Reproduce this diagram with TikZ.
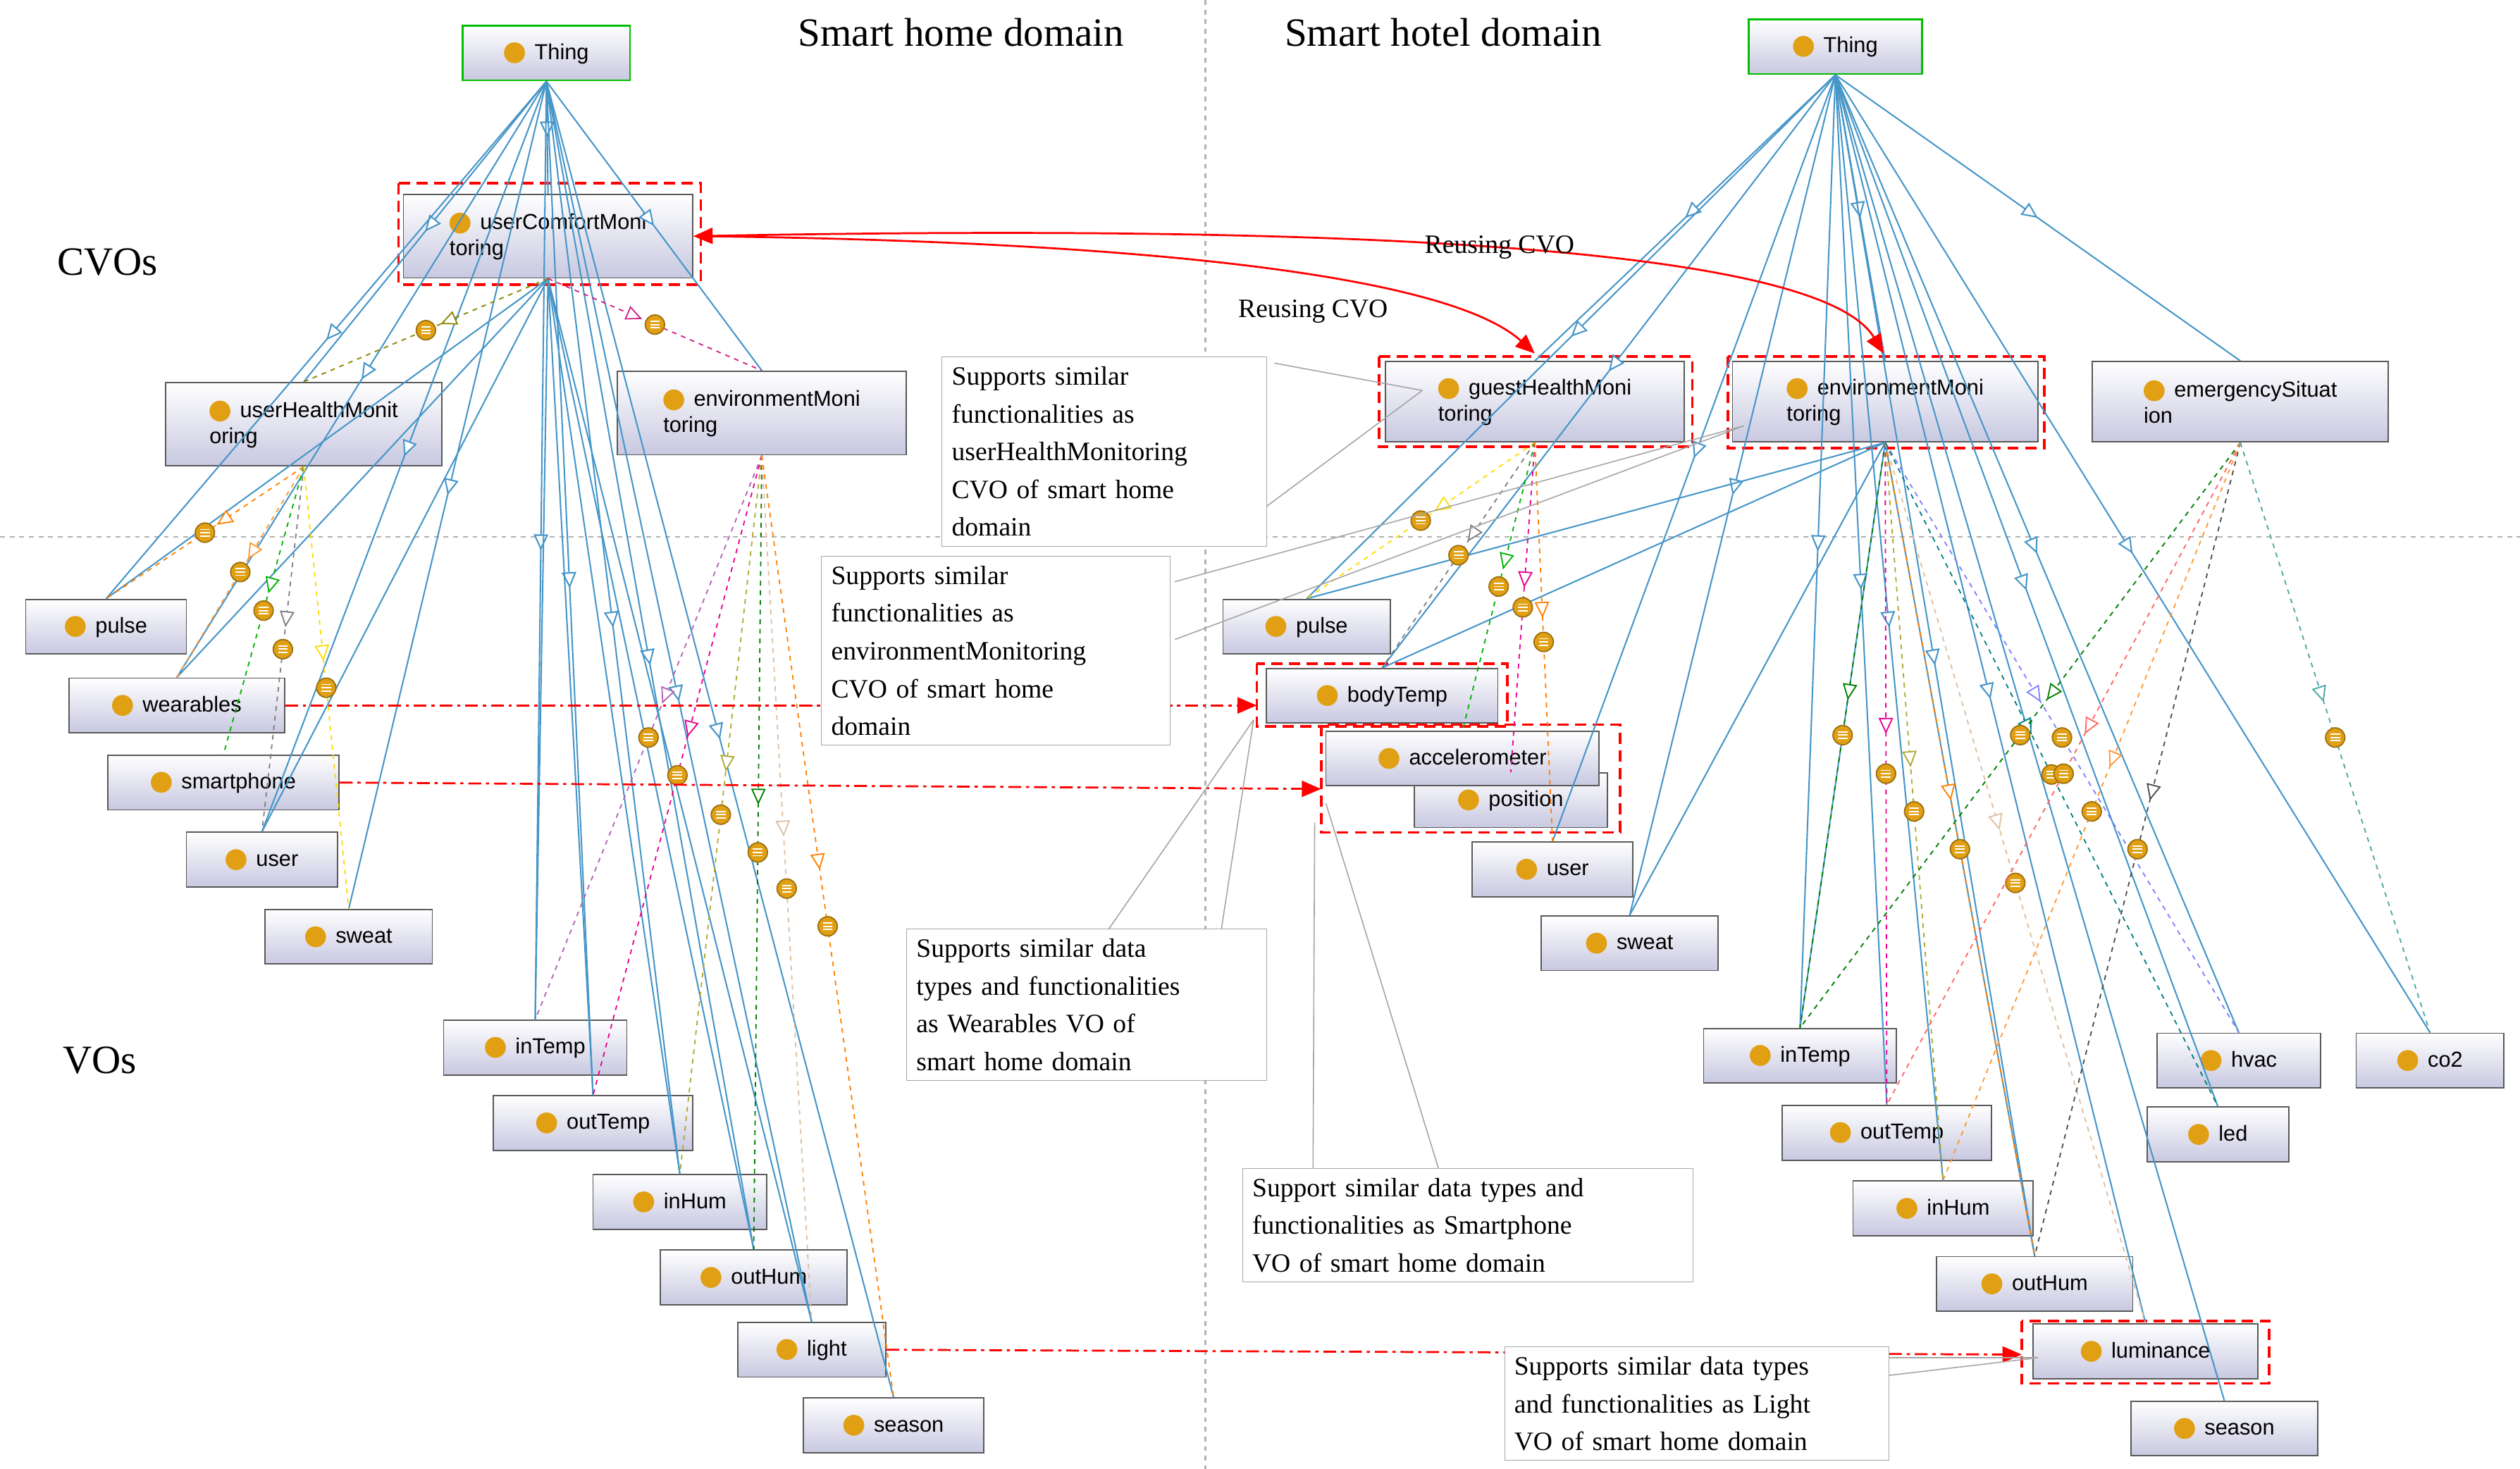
\documentclass[tikz,border=0pt]{standalone}
\usepackage{fontspec}
\setmainfont{Liberation Serif}
\newfontfamily\nodefont{Liberation Sans}
\usetikzlibrary{arrows.meta,decorations.markings}
\definecolor{bl}{RGB}{70,150,200}
\definecolor{icon}{RGB}{225,160,20}
\newcommand\oic{\tikz[baseline=-4pt]\fill[icon] (0,0) circle (6.5pt);\hspace{6pt}}
\tikzset{
 vo/.style={draw=gray!70!black, line width=0.8pt, top color=white, bottom color={rgb,255:red,200;green,200;blue,225}, minimum height=34pt, font=\nodefont\fontsize{13.5}{16}\selectfont, inner sep=3pt, align=left},
 thing/.style={vo, draw=green!75!black, line width=1.2pt},
 redbox/.style={draw=red, dash pattern=on 7pt off 4pt, line width=1.6pt},
 bl/.style={draw=bl, line width=0.9pt, postaction={decorate}, decoration={markings, mark=at position 0.5 with {\arrow{Triangle[open,length=10pt,width=9pt,fill=white]}}}},
 bp/.style={draw=bl, line width=0.9pt},
 mk/.style={circle, fill=icon, draw=icon!70!black, solid, inner sep=0pt, minimum size=12pt, path picture={\draw[white,line width=0.8pt] ([xshift=-3pt,yshift=2pt]path picture bounding box.center) -- ++(6pt,0) ([xshift=-3pt]path picture bounding box.center) -- ++(6pt,0) ([xshift=-3pt,yshift=-2pt]path picture bounding box.center) -- ++(6pt,0);}},
 dep/.style={draw=#1, dashed, line width=0.8pt, postaction={decorate}, decoration={markings, mark=at position 0.44 with {\arrow[solid,#1]{Triangle[open,length=10pt,width=9pt,fill=white]}}, mark=at position 0.5 with {\node[mk]{};}}},
 call/.style={draw=gray!70, fill=white, font=\fontsize{16.5}{23.5}\selectfont, align=left, anchor=north west, inner sep=6pt},
 ptr/.style={draw=gray!70, line width=0.7pt},
 rd/.style={draw=red, line width=1.2pt, dash pattern=on 8pt off 3pt on 2pt off 3pt, -{Triangle[length=12pt,width=10pt]}},
 title/.style={font=\fontsize{25}{30}\selectfont}
}
\begin{document}
\begin{tikzpicture}[x=1pt,y=-1pt]
\useasboundingbox[fill=white] (0,0) rectangle (1568,914);
\draw[gray!60, dashed, line width=1pt] (750,0) -- (750,914);
\draw[gray!60, dashed, line width=1pt] (0,334) -- (1568,334);
\node[title] (t1) at (598,20) {Smart home domain};
\node[title] (t2) at (898,20) {Smart hotel domain};
\node[title] (cv) at (67,163) {CVOs};
\node[title] (vv) at (62,660) {VOs};
% ---- left nodes
\node[thing, minimum width=104pt] (tl) at (340,33) {\oic Thing};
\node[vo, minimum width=180pt, minimum height=52pt] (ucm) at (341,147) {\oic userComfortMoni\\toring};
\node[vo, minimum width=172pt, minimum height=52pt] (uhm) at (189,264) {\oic userHealthMonit\\oring};
\node[vo, minimum width=180pt, minimum height=52pt] (eml) at (474,257) {\oic environmentMoni\\toring};
\node[vo, minimum width=100pt] (pl) at (66,390) {\oic pulse};
\node[vo, minimum width=134pt] (wl) at (110,439) {\oic wearables};
\node[vo, minimum width=144pt] (sl) at (139,487) {\oic smartphone};
\node[vo, minimum width=94pt] (ul) at (163,535) {\oic user};
\node[vo, minimum width=104pt] (swl) at (217,583) {\oic sweat};
\node[vo, minimum width=114pt] (itl) at (333,652) {\oic inTemp};
\node[vo, minimum width=124pt] (otl) at (369,699) {\oic outTemp};
\node[vo, minimum width=108pt] (ihl) at (423,748) {\oic inHum};
\node[vo, minimum width=116pt] (ohl) at (469,795) {\oic outHum};
\node[vo, minimum width=92pt] (ll) at (505,840) {\oic light};
\node[vo, minimum width=112pt] (sel) at (556,887) {\oic season};
\draw[redbox] (248,114) rectangle (436,177);
% ---- right nodes
\node[thing, minimum width=108pt] (tr) at (1142,29) {\oic Thing};
\node[vo, minimum width=186pt, minimum height=50pt] (ghm) at (955,250) {\oic guestHealthMoni\\toring};
\node[vo, minimum width=190pt, minimum height=50pt] (emr) at (1173,250) {\oic environmentMoni\\toring};
\node[vo, minimum width=184pt, minimum height=50pt] (ems) at (1394,250) {\oic emergencySituat\\ion};
\node[vo, minimum width=104pt] (pr) at (813,390) {\oic pulse};
\node[vo, minimum width=144pt] (bt) at (860,433) {\oic bodyTemp};
\node[vo, minimum width=120pt] (po) at (940,498) {\oic position};
\node[vo, minimum width=170pt] (ac) at (910,472) {\oic accelerometer};
\node[vo, minimum width=100pt] (ur) at (966,541) {\oic user};
\node[vo, minimum width=110pt] (swr) at (1014,587) {\oic sweat};
\node[vo, minimum width=120pt] (itr) at (1120,657) {\oic inTemp};
\node[vo, minimum width=130pt] (otr) at (1174,705) {\oic outTemp};
\node[vo, minimum width=112pt] (ihr) at (1209,752) {\oic inHum};
\node[vo, minimum width=122pt] (ohr) at (1266,799) {\oic outHum};
\node[vo, minimum width=140pt] (lum) at (1335,841) {\oic luminance};
\node[vo, minimum width=116pt] (ser) at (1384,889) {\oic season};
\node[vo, minimum width=102pt] (hv) at (1393,660) {\oic hvac};
\node[vo, minimum width=88pt] (led) at (1380,706) {\oic led};
\node[vo, minimum width=92pt] (co) at (1512,660) {\oic co2};
\draw[redbox] (858,222) rectangle (1053,278);
\draw[redbox] (1075,222) rectangle (1272,279);
\draw[redbox] (782,413) rectangle (938,452);
\draw[redbox] (822,451) rectangle (1008,518);
\draw[redbox] (1258,822) rectangle (1412,861);
% ---- blue subclass lines (left)
\foreach \n in {ucm,uhm,eml,pl,wl,ul,swl,itl,otl,ihl,ohl,ll,sel}
  \draw[bl] (tl.south) -- (\n.north);
\foreach \n in {pl,wl,ul,itl,otl,ihl,ohl,ll}
  \draw[bp] (ucm.south) -- (\n.north);
% ---- blue lines (right)
\foreach \n in {ghm,emr,ems,pr,bt,ur,swr,itr,otr,ihr,ohr,lum,ser,hv,led,co}
  \draw[bl] (tr.south) -- (\n.north);
\foreach \n in {pr,bt,swr,itr,ohr}
  \draw[bp] (emr.south) -- (\n.north);
% ---- dashed dependencies left
\draw[dep=olive] (ucm.south) -- (uhm.north);
\draw[dep=magenta!70!violet] (ucm.south) -- (eml.north);
\draw[dep=orange] (uhm.south) -- (pl.north);
\draw[dep=orange!80] (uhm.south) -- (wl.north);
\draw[dep=green!70!black] (uhm.south) -- (sl.north);
\draw[dep=gray] (uhm.south) -- (ul.north);
\draw[dep=yellow!80!orange] (uhm.south) -- (swl.north);
\draw[dep=violet!60] (eml.south) -- (itl.north);
\draw[dep=magenta] (eml.south) -- (otl.north);
\draw[dep=olive!70] (eml.south) -- (ihl.north);
\draw[dep=green!50!black] (eml.south) -- (ohl.north);
\draw[dep=brown!50] (eml.south) -- (ll.north);
\draw[dep=orange] (eml.south) -- (sel.north);
% ---- dashed dependencies right
\draw[dep=yellow!80!orange] (ghm.south) -- (pr.north);
\draw[dep=gray] (ghm.south) -- (bt.north);
\draw[dep=green!70!black] (ghm.south) -- (ac.north);
\draw[dep=magenta] (ghm.south) -- (po.north);
\draw[dep=orange] (ghm.south) -- (ur.north);
\draw[dep=green!50!black] (emr.south) -- (itr.north);
\draw[dep=magenta] (emr.south) -- (otr.north);
\draw[dep=olive!70] (emr.south) -- (ihr.north);
\draw[dep=orange] (emr.south) -- (ohr.north);
\draw[dep=brown!50] (emr.south) -- (lum.north);
\draw[dep=blue!50] (emr.south) -- (hv.north);
\draw[dep=teal] (emr.south) -- (led.north);
\draw[dep=green!50!black] (ems.south) -- (itr.north);
\draw[dep=red!60] (ems.south) -- (otr.north);
\draw[dep=gray!60!black] (ems.south) -- (ohr.north);
\draw[dep=orange!80] (ems.south) -- (ihr.north);
\draw[dep=teal!70] (ems.south) -- (co.north);
% ---- reuse arrows
\draw[red, line width=1.2pt, {Triangle[length=12pt,width=10pt]}-{Triangle[length=12pt,width=10pt]}] (ucm.east) .. controls (800,140) and (1130,150) .. (1172,220);
\draw[red, line width=1.2pt, -{Triangle[length=12pt,width=10pt]}] (436,147) .. controls (700,150) and (900,170) .. (955,220);
\node[font=\fontsize{16.5}{20}\selectfont] (r1) at (933,154) {Reusing CVO};
\node[font=\fontsize{16.5}{20}\selectfont] (r2) at (817,194) {Reusing CVO};
% ---- red dash-dot arrows
\draw[rd] (wl.east) -- (782,439);
\draw[rd] (sl.east) -- (822,491);
\draw[rd] (ll.east) -- (1258,843);
% ---- callouts
\coordinate (p1) at (885,243);
\coordinate (p2) at (1085,265);
\coordinate (p3) at (780,448);
\coordinate (p4a) at (818,512);
\coordinate (p4b) at (825,500);
\coordinate (p5) at (1268,845);
\draw[ptr] (793,226) -- (p1);
\draw[ptr] (760,336) -- (p1);
\node[call, text width=190pt] (c1) at (586,222) {Supports similar\\functionalities as\\userHealthMonitoring\\CVO of smart home\\domain};
\draw[ptr] (731,362) -- (p2);
\draw[ptr] (731,398) -- (p2);
\node[call, text width=205pt] (c2) at (511,346) {Supports similar\\functionalities as\\environmentMonitoring\\CVO of smart home\\domain};
\draw[ptr] (690,578) -- (p3);
\draw[ptr] (760,578) -- (p3);
\node[call, text width=212pt] (c3) at (564,578) {Supports similar data\\types and functionalities\\as Wearables VO of\\smart home domain};
\draw[ptr] (817,727) -- (p4a);
\draw[ptr] (895,727) -- (p4b);
\node[call, text width=268pt] (c4) at (773,727) {Support similar data types and\\functionalities as Smartphone\\VO of smart home domain};
\draw[ptr] (1175,856) -- (p5);
\draw[ptr] (1175,845) -- (p5);
\node[call, text width=227pt] (c5) at (936,838) {Supports similar data types\\and functionalities as Light\\VO of smart home domain};
\end{tikzpicture}
\end{document}
